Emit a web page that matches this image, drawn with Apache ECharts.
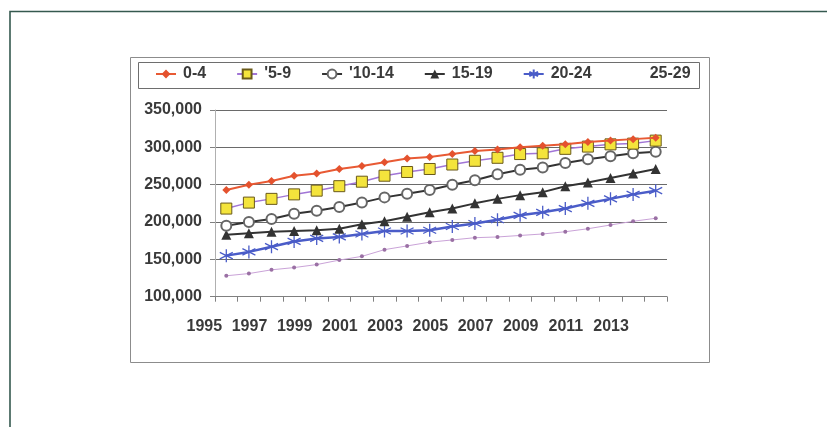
<!DOCTYPE html>
<html>
<head>
<meta charset="utf-8">
<script src="https://cdn.jsdelivr.net/npm/echarts@6/dist/echarts.min.js"></script>
<style>
  html, body { margin: 0; padding: 0; background: #ffffff; }
  #chart { width: 827px; height: 427px; }
</style>
</head>
<body>
<div id="chart"></div>
<script>
// ---- data ----
const years = ['1995','1996','1997','1998','1999','2000','2001','2002','2003','2004',
               '2005','2006','2007','2008','2009','2010','2011','2012','2013','2014'];
const seriesNames = ['0-4', "'5-9", "'10-14", '15-19', '20-24', '25-29'];
const age0_4   = [243000,250000,255000,262000,265000,271000,275000,280000,285000,287000,291000,295000,297000,300000,302000,304000,307000,309000,311000,313000];
const age5_9   = [218000,226000,231000,237000,242000,248000,254000,262000,267000,271000,277000,282000,286000,291000,292000,298000,301000,304000,305000,309000];
const age10_14 = [195000,200000,204000,211000,215000,220000,226000,233000,238000,243000,250000,256000,264000,270000,273000,279000,284000,288000,292000,294000];
const age15_19 = [183000,185000,187000,188000,189000,191000,197000,201000,207000,213000,218000,225000,231000,236000,240000,248000,253000,259000,265000,271000];
const age20_24 = [155000,160000,167000,174000,178000,180000,184000,188000,188000,189000,194000,198000,203000,209000,213000,218000,225000,231000,237000,242000];
const age25_29 = [128000,131000,136000,139000,143000,149000,154000,163000,168000,173000,176000,179000,180000,182000,184000,187000,191000,196000,201000,205000];
const yMin = 100000, yMax = 350000, yStep = 50000;

const FONT = '"Liberation Sans", Arial, sans-serif';
const TXT = '#3a3a3a';
const fmt = v => String(v).replace(/\B(?=(\d{3})+(?!\d))/g, ',');
const asterisk = 'path://M0,-10L0,10M-8.66,-5L8.66,5M-8.66,5L8.66,-5';

const chart = echarts.init(document.getElementById('chart'), null, { renderer: 'canvas' });
chart.setOption({
  backgroundColor: '#ffffff',
  animation: false,
  graphic: [
    { type: 'polyline', silent: true, z: 0,
      shape: { points: [[10, 427], [10, 11.5], [827, 11.5]] },
      style: { fill: null, stroke: '#35594f', lineWidth: 1.6 } },
    { type: 'rect', silent: true, z: 0,
      shape: { x: 130.5, y: 57.5, width: 579, height: 305 },
      style: { fill: null, stroke: '#8c8c8c', lineWidth: 1 } },
    { type: 'rect', silent: true, z: 0,
      shape: { x: 138.5, y: 62.5, width: 561, height: 26 },
      style: { fill: null, stroke: '#6e6e6e', lineWidth: 1 } }
  ],
  legend: {
    left: 155, top: 66,
    padding: 0,
    itemGap: 30, itemWidth: 20, itemHeight: 11,
    textStyle: { fontFamily: FONT, fontSize: 16, fontWeight: 'bold', color: TXT, padding: [0, 0, 0, 2] },
    data: [
      { name: seriesNames[0] }, { name: seriesNames[1] }, { name: seriesNames[2] },
      { name: seriesNames[3] }, { name: seriesNames[4] },
      { name: seriesNames[5], itemStyle: { opacity: 0 }, lineStyle: { opacity: 0 } }
    ]
  },
  grid: { left: 215, right: 160, top: 110, bottom: 130.3 },
  xAxis: {
    type: 'category', data: years, boundaryGap: true,
    axisLine: { lineStyle: { color: '#808080', width: 1 } },
    axisTick: { show: true, inside: false, length: 5, interval: 0, lineStyle: { color: '#808080' } },
    axisLabel: { interval: 1, margin: 22, fontFamily: FONT, fontSize: 16, fontWeight: 'bold', color: TXT,
                 padding: [0, 44, 0, 0] },
    splitLine: { show: false }
  },
  yAxis: {
    type: 'value', min: yMin, max: yMax, interval: yStep,
    axisLine: { show: true, lineStyle: { color: '#b0b0b0', width: 1 } },
    axisTick: { show: true, length: 5, lineStyle: { color: '#808080' } },
    axisLabel: { margin: 13, fontFamily: FONT, fontSize: 16, fontWeight: 'bold', color: TXT, formatter: fmt },
    splitLine: { show: true, lineStyle: { color: '#6a6a6a', width: 1 } }
  },
  series: [
    { name: seriesNames[0], type: 'line', data: age0_4, color: '#e4522e',
      symbol: 'diamond', symbolSize: 8,
      lineStyle: { color: '#e85a34', width: 2 },
      itemStyle: { color: '#e4522e' }, z: 8 },
    { name: seriesNames[1], type: 'line', data: age5_9, color: '#f2e23a',
      symbol: 'rect', symbolSize: 11,
      lineStyle: { color: '#a175d6', width: 1.5 },
      itemStyle: { color: '#f4e43c', borderColor: '#6a5a1a', borderWidth: 1 }, z: 7 },
    { name: seriesNames[2], type: 'line', data: age10_14, color: '#444444',
      symbol: 'emptyCircle', symbolSize: 10,
      lineStyle: { color: '#333333', width: 2 },
      itemStyle: { color: '#666666', borderColor: '#666666', borderWidth: 1 }, z: 6 },
    { name: seriesNames[3], type: 'line', data: age15_19, color: '#333333',
      symbol: 'triangle', symbolSize: 10,
      lineStyle: { color: '#333333', width: 2 },
      itemStyle: { color: '#333333' }, z: 5 },
    { name: seriesNames[4], type: 'line', data: age20_24, color: '#4a5cc8',
      symbol: asterisk, symbolSize: 13,
      lineStyle: { color: '#4a5cc8', width: 2.5 },
      itemStyle: { color: '#4a5cc8', borderColor: '#4a5cc8', borderWidth: 1.3 }, z: 4 },
    { name: seriesNames[5], type: 'line', data: age25_29, color: '#c9a2d6',
      symbol: 'circle', symbolSize: 4,
      lineStyle: { color: '#caa3d8', width: 1 },
      itemStyle: { color: '#9a70a4' }, z: 3 }
  ]
});
</script>
</body>
</html>
